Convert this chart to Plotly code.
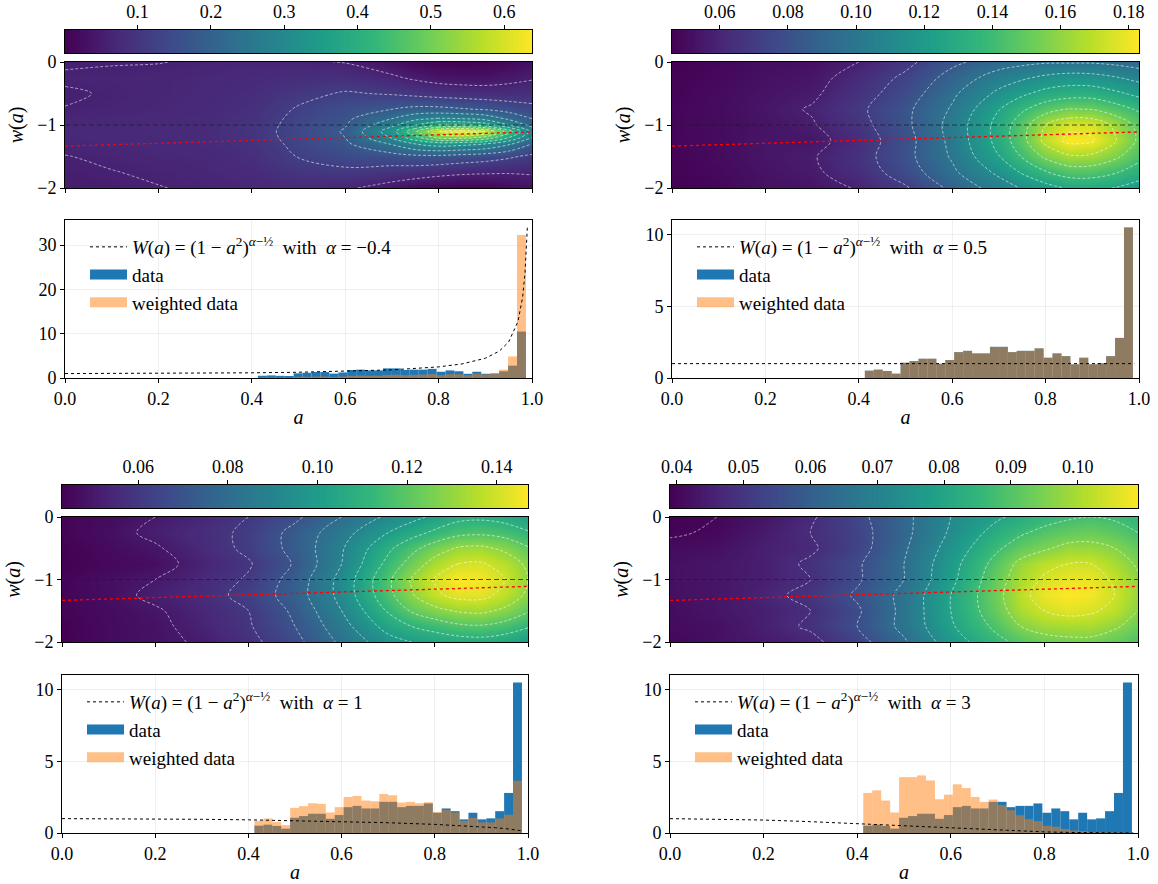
import numpy as np
import plotly.graph_objects as go

# ---------------------------------------------------------------- data
ALPHA_LABELS = ["−0.4", "0.5", "1", "3"]

# histogram of the sampled a values: 30 bins between sample min and max
A_MIN, A_MAX, N_BINS = 0.413, 0.987, 30

data_hist = [0.51, 0.58, 0.49, 0.30, 1.06, 1.18, 1.34, 1.34, 0.99, 1.25,
             1.80, 1.89, 1.71, 1.71, 2.17, 2.17, 1.80, 1.89, 1.89, 2.06,
             1.41, 1.71, 1.52, 0.95, 1.41, 0.95, 1.02, 1.52, 2.79, 10.48]
weighted_p1 = [0.11, 0.13, 0.11, 0.07, 0.25, 0.29, 0.33, 0.34, 0.26, 0.34,
               0.50, 0.55, 0.52, 0.54, 0.71, 0.75, 0.65, 0.72, 0.77, 0.90,
               0.66, 0.87, 0.85, 0.64, 1.00, 0.80, 1.01, 1.90, 4.87, 32.3]
weighted_p2 = [0.51, 0.58, 0.49, 0.30, 1.06, 1.18, 1.34, 1.34, 0.99, 1.25,
               1.80, 1.89, 1.71, 1.71, 2.17, 2.17, 1.80, 1.89, 1.89, 2.06,
               1.41, 1.71, 1.52, 0.95, 1.41, 0.95, 1.02, 1.52, 2.79, 10.48]
weighted_p3 = [0.85, 1.01, 0.78, 0.55, 1.75, 1.87, 2.07, 2.03, 1.43, 1.80,
               2.51, 2.58, 2.26, 2.21, 2.72, 2.63, 2.12, 2.17, 2.07, 2.14,
               1.45, 1.61, 1.43, 0.85, 1.06, 0.74, 0.74, 1.01, 1.27, 3.64]
weighted_p4 = [2.79, 2.97, 2.26, 1.43, 3.89, 3.89, 4.01, 3.66, 2.35, 2.67,
               3.39, 3.13, 2.51, 2.17, 2.33, 1.94, 1.59, 1.24, 0.97, 0.83,
               0.51, 0.44, 0.28, 0.18, 0.14, 0.06, 0.05, 0.04, 0.03, 0.01]

# weight curve W(a)
curve_a = [0, 0.1, 0.2, 0.3, 0.4, 0.5, 0.6, 0.7, 0.8, 0.85, 0.9, 0.93, 0.95,
           0.97, 0.98, 0.985, 0.99]
curve_p1 = [1.0, 1.009, 1.037, 1.089, 1.170, 1.296, 1.494, 1.833, 2.508, 3.170,
            4.458, 6.059, 8.127, 12.75, 18.28, 23.64, 33.96]
curve_p2 = [1.0] * 17
curve_p3 = [1.0, 0.995, 0.980, 0.954, 0.917, 0.866, 0.800, 0.714, 0.600, 0.527,
            0.436, 0.368, 0.312, 0.243, 0.199, 0.173, 0.141]
curve_p4 = [1.0, 0.975, 0.903, 0.790, 0.647, 0.487, 0.328, 0.186, 0.078, 0.041,
            0.016, 0.0067, 0.003, 0.0008, 0.0003, 0.0001, 0.0001]

# fiducial w(a) (red dotted) and LCDM reference
fid_a = [0.0, 0.25, 0.5, 0.75, 1.0]
fid_w = [-1.335, -1.28, -1.225, -1.17, -1.11]
w_lcdm = -1.0

# density maps: one list per a column, values over the w rows
A_GRID_1 = [0, 0.1, 0.2, 0.3, 0.4, 0.5, 0.6, 0.7, 0.75, 0.8, 0.85, 0.9, 0.95, 1.0]
W_GRID_1 = [0, -0.25, -0.5, -0.75, -0.9, -1.0, -1.1, -1.2, -1.3, -1.5, -1.75, -2.0]
density_p1_cols = [
    [0.055, 0.065, 0.056, 0.061, 0.068, 0.070, 0.071, 0.070, 0.068, 0.059, 0.054, 0.050],
    [0.058, 0.066, 0.063, 0.066, 0.071, 0.073, 0.074, 0.073, 0.071, 0.065, 0.059, 0.053],
    [0.059, 0.068, 0.068, 0.070, 0.074, 0.076, 0.076, 0.075, 0.073, 0.069, 0.064, 0.059],
    [0.064, 0.071, 0.072, 0.074, 0.077, 0.078, 0.079, 0.078, 0.076, 0.072, 0.068, 0.064],
    [0.068, 0.076, 0.082, 0.088, 0.093, 0.096, 0.098, 0.096, 0.092, 0.085, 0.077, 0.070],
    [0.066, 0.085, 0.105, 0.125, 0.133, 0.137, 0.140, 0.138, 0.133, 0.122, 0.100, 0.075],
    [0.058, 0.088, 0.125, 0.155, 0.168, 0.176, 0.185, 0.180, 0.170, 0.145, 0.108, 0.068],
    [0.030, 0.068, 0.115, 0.180, 0.240, 0.285, 0.335, 0.305, 0.245, 0.155, 0.095, 0.038],
    [0.012, 0.052, 0.105, 0.195, 0.285, 0.355, 0.470, 0.400, 0.300, 0.165, 0.088, 0.020],
    [0.004, 0.040, 0.095, 0.195, 0.305, 0.420, 0.600, 0.490, 0.330, 0.165, 0.078, 0.008],
    [0.001, 0.035, 0.090, 0.185, 0.300, 0.420, 0.638, 0.500, 0.320, 0.155, 0.070, 0.002],
    [0.004, 0.036, 0.085, 0.175, 0.280, 0.390, 0.600, 0.460, 0.300, 0.145, 0.066, 0.006],
    [0.014, 0.045, 0.085, 0.155, 0.230, 0.300, 0.450, 0.360, 0.250, 0.128, 0.064, 0.016],
    [0.028, 0.055, 0.088, 0.138, 0.180, 0.220, 0.280, 0.240, 0.180, 0.108, 0.066, 0.030],
]

A_GRID = [0, 0.1, 0.2, 0.3, 0.4, 0.5, 0.6, 0.7, 0.75, 0.8, 0.85, 0.9, 0.95, 1.0]
W_GRID = [0, -0.25, -0.5, -0.75, -1.0, -1.25, -1.5, -1.75, -2.0]
density_p2_cols = [
    [0.046, 0.047, 0.047, 0.048, 0.048, 0.048, 0.047, 0.047, 0.046],
    [0.048, 0.049, 0.050, 0.050, 0.050, 0.050, 0.050, 0.049, 0.048],
    [0.051, 0.052, 0.053, 0.054, 0.053, 0.054, 0.054, 0.053, 0.052],
    [0.052, 0.054, 0.056, 0.059, 0.057, 0.054, 0.057, 0.056, 0.053],
    [0.058, 0.063, 0.066, 0.069, 0.067, 0.064, 0.066, 0.064, 0.059],
    [0.068, 0.074, 0.078, 0.082, 0.082, 0.080, 0.081, 0.078, 0.070],
    [0.082, 0.090, 0.096, 0.100, 0.103, 0.102, 0.100, 0.096, 0.088],
    [0.092, 0.105, 0.115, 0.125, 0.130, 0.130, 0.125, 0.115, 0.105],
    [0.095, 0.110, 0.123, 0.137, 0.147, 0.148, 0.140, 0.127, 0.113],
    [0.097, 0.115, 0.130, 0.147, 0.166, 0.170, 0.155, 0.138, 0.120],
    [0.097, 0.118, 0.133, 0.153, 0.176, 0.183, 0.164, 0.145, 0.127],
    [0.097, 0.117, 0.133, 0.152, 0.175, 0.181, 0.163, 0.145, 0.128],
    [0.095, 0.113, 0.128, 0.145, 0.163, 0.167, 0.155, 0.140, 0.125],
    [0.092, 0.108, 0.122, 0.137, 0.148, 0.150, 0.143, 0.132, 0.120],
]
density_p3_cols = [
    [0.044, 0.044, 0.043, 0.043, 0.044, 0.044, 0.044, 0.043, 0.043],
    [0.046, 0.047, 0.046, 0.045, 0.047, 0.047, 0.046, 0.046, 0.046],
    [0.050, 0.052, 0.049, 0.047, 0.050, 0.052, 0.049, 0.048, 0.048],
    [0.054, 0.056, 0.055, 0.053, 0.055, 0.056, 0.054, 0.053, 0.051],
    [0.060, 0.062, 0.062, 0.059, 0.061, 0.063, 0.060, 0.059, 0.057],
    [0.068, 0.073, 0.073, 0.071, 0.074, 0.075, 0.072, 0.070, 0.067],
    [0.080, 0.086, 0.089, 0.090, 0.093, 0.093, 0.090, 0.086, 0.082],
    [0.092, 0.100, 0.108, 0.113, 0.118, 0.117, 0.111, 0.104, 0.096],
    [0.097, 0.106, 0.117, 0.124, 0.131, 0.129, 0.121, 0.110, 0.100],
    [0.102, 0.112, 0.125, 0.134, 0.141, 0.138, 0.127, 0.114, 0.103],
    [0.107, 0.117, 0.131, 0.140, 0.147, 0.143, 0.131, 0.118, 0.105],
    [0.108, 0.118, 0.132, 0.141, 0.146, 0.143, 0.132, 0.119, 0.106],
    [0.106, 0.116, 0.128, 0.136, 0.140, 0.137, 0.128, 0.116, 0.104],
    [0.102, 0.111, 0.121, 0.128, 0.130, 0.128, 0.121, 0.111, 0.100],
]
density_p4_cols = [
    [0.039, 0.0395, 0.041, 0.042, 0.042, 0.042, 0.041, 0.041, 0.040],
    [0.040, 0.0405, 0.042, 0.043, 0.043, 0.043, 0.043, 0.042, 0.042],
    [0.043, 0.044, 0.045, 0.045, 0.045, 0.046, 0.045, 0.045, 0.044],
    [0.047, 0.048, 0.047, 0.049, 0.048, 0.050, 0.048, 0.049, 0.046],
    [0.054, 0.053, 0.053, 0.055, 0.055, 0.057, 0.055, 0.056, 0.053],
    [0.062, 0.062, 0.063, 0.064, 0.064, 0.066, 0.066, 0.066, 0.063],
    [0.072, 0.073, 0.075, 0.077, 0.078, 0.080, 0.080, 0.079, 0.076],
    [0.079, 0.083, 0.087, 0.091, 0.093, 0.094, 0.093, 0.090, 0.086],
    [0.082, 0.087, 0.092, 0.098, 0.100, 0.102, 0.100, 0.096, 0.090],
    [0.085, 0.090, 0.095, 0.102, 0.105, 0.107, 0.104, 0.099, 0.093],
    [0.087, 0.092, 0.098, 0.104, 0.107, 0.109, 0.106, 0.100, 0.094],
    [0.088, 0.093, 0.098, 0.104, 0.107, 0.108, 0.105, 0.100, 0.094],
    [0.087, 0.091, 0.096, 0.100, 0.103, 0.104, 0.102, 0.097, 0.092],
    [0.085, 0.088, 0.092, 0.095, 0.097, 0.098, 0.096, 0.093, 0.089],
]

# contour levels (start, end, step) and colorbar ticks
contour_levels = [(0.06, 0.6, 0.06), (0.058, 0.18, 0.0135),
                  (0.05, 0.14, 0.01), (0.04, 0.104, 0.008)]
cbar_ticks = [[0.1, 0.2, 0.3, 0.4, 0.5, 0.6],
              [0.06, 0.08, 0.10, 0.12, 0.14, 0.16, 0.18],
              [0.06, 0.08, 0.10, 0.12, 0.14],
              [0.04, 0.05, 0.06, 0.07, 0.08, 0.09, 0.10]]
cbar_fmt = [".1f", ".2f", ".2f", ".2f"]
hist_yticks = [[0, 10, 20, 30], [0, 5, 10], [0, 5, 10], [0, 5, 10]]

# ---------------------------------------------------------------- layout (pixels)
W_PX, H_PX = 1158, 884
FONT = "Liberation Serif"
panels = [
    dict(x=(65, 532), cb=(30, 53), heat=(62, 188), hist=(220, 378)),
    dict(x=(672, 1139), cb=(30, 53), heat=(62, 188), hist=(220, 378)),
    dict(x=(62, 528), cb=(485, 508), heat=(517, 642), hist=(675, 833)),
    dict(x=(670, 1138), cb=(485, 508), heat=(517, 642), hist=(675, 833)),
]

def xd(px):
    return [px[0] / W_PX, px[1] / W_PX]

def yd(px):
    return [1 - px[1] / H_PX, 1 - px[0] / H_PX]

grids = [(A_GRID_1, W_GRID_1, density_p1_cols), (A_GRID, W_GRID, density_p2_cols),
         (A_GRID, W_GRID, density_p3_cols), (A_GRID, W_GRID, density_p4_cols)]
weighted = [weighted_p1, weighted_p2, weighted_p3, weighted_p4]
curves = [curve_p1, curve_p2, curve_p3, curve_p4]

edges = np.linspace(A_MIN, A_MAX, N_BINS + 1)
centers = 0.5 * (edges[:-1] + edges[1:])
bw = edges[1] - edges[0]

BLUE = "#1f77b4"
ORANGE_A = "rgba(255,127,14,0.5)"

fig = go.Figure()
layout = dict(width=W_PX, height=H_PX, margin=dict(l=0, r=0, t=0, b=0),
              paper_bgcolor="white", plot_bgcolor="white", barmode="overlay",
              font=dict(family=FONT, size=18, color="black"), showlegend=True)
shapes = []

axis_common = dict(showline=True, linecolor="black", linewidth=1, mirror=True,
                   ticks="outside", ticklen=4, tickcolor="black", zeroline=False,
                   automargin=False,
                   tickfont=dict(family=FONT, size=18, color="black"))

def nm(i, c):
    return c if i == 1 else f"{c}{i}"

for p in range(4):
    P = panels[p]
    icb, iht, ihs = 3 * p + 1, 3 * p + 2, 3 * p + 3
    a_g, w_g, cols = grids[p]
    Z = np.array(cols).T
    zmin, zmax = float(Z.min()), float(Z.max())

    # --- colour bar (gradient over the data range)
    cbv = np.linspace(zmin, zmax, 300)
    fig.add_trace(go.Heatmap(x=cbv, y=[0], z=[cbv], colorscale="Viridis",
                             zmin=zmin, zmax=zmax, showscale=False, hoverinfo="skip",
                             xaxis=nm(icb, "x"), yaxis=nm(icb, "y")))
    layout[nm(icb, "xaxis")] = dict(axis_common, domain=xd(P["x"]), range=[zmin, zmax],
                                   side="top", tickvals=cbar_ticks[p],
                                   tickformat=cbar_fmt[p], anchor=nm(icb, "y"),
                                   showgrid=False)
    layout[nm(icb, "yaxis")] = dict(axis_common, domain=yd(P["cb"]), range=[-0.5, 0.5],
                                   showticklabels=False, ticks="", anchor=nm(icb, "x"),
                                   showgrid=False)

    # --- density map
    fig.add_trace(go.Heatmap(x=a_g, y=w_g, z=Z, colorscale="Viridis", zmin=zmin,
                             zmax=zmax, zsmooth="best", showscale=False,
                             hoverinfo="skip", showlegend=False,
                             xaxis=nm(iht, "x"), yaxis=nm(iht, "y")))
    s, e, d = contour_levels[p]
    fig.add_trace(go.Contour(x=a_g, y=w_g, z=Z, showscale=False, hoverinfo="skip",
                             contours=dict(coloring="none", start=s, end=e, size=d),
                             line=dict(color="rgba(255,255,255,0.55)", width=1,
                                       dash="3px,2px", smoothing=1.0),
                             showlegend=False,
                             xaxis=nm(iht, "x"), yaxis=nm(iht, "y")))
    fig.add_trace(go.Scatter(x=fid_a, y=fid_w, mode="lines", showlegend=False,
                             line=dict(color="red", width=1.3, dash="dot"),
                             hoverinfo="skip",
                             xaxis=nm(iht, "x"), yaxis=nm(iht, "y")))
    shapes.append(dict(type="line", xref=f"{nm(iht, 'x')} domain", x0=0, x1=1,
                       yref=nm(iht, "y"), y0=w_lcdm, y1=w_lcdm,
                       line=dict(color="rgba(30,30,30,0.75)", width=1, dash="5px,3px")))
    layout[nm(iht, "xaxis")] = dict(axis_common, domain=xd(P["x"]), range=[0, 1],
                                   tickvals=[0, 0.2, 0.4, 0.6, 0.8, 1.0],
                                   showticklabels=False, anchor=nm(iht, "y"),
                                   showgrid=False)
    layout[nm(iht, "yaxis")] = dict(axis_common, domain=yd(P["heat"]), range=[-2, 0],
                                   tickvals=[-2, -1, 0], anchor=nm(iht, "x"),
                                   showgrid=False,
                                   title=dict(text="<i>w</i>(<i>a</i>)", standoff=8,
                                              font=dict(family=FONT, size=20)))

    # --- histogram
    leg = "legend" if p == 0 else f"legend{p + 1}"
    label = ("<i>W</i>(<i>a</i>) = (1 − <i>a</i><sup>2</sup>)"
             "<sup><i>α</i>−½</sup>  with  <i>α</i> = " + ALPHA_LABELS[p])
    fig.add_trace(go.Scatter(x=curve_a, y=curves[p], mode="lines", name=label,
                             line=dict(color="black", width=1, dash="dot"),
                             legend=leg, xaxis=nm(ihs, "x"), yaxis=nm(ihs, "y")))
    fig.add_trace(go.Bar(x=centers, y=data_hist, width=bw, name="data",
                         marker=dict(color=BLUE, line=dict(width=0)),
                         showlegend=False, hoverinfo="skip",
                         xaxis=nm(ihs, "x"), yaxis=nm(ihs, "y")))
    fig.add_trace(go.Bar(x=centers, y=weighted[p], width=bw, name="weighted data",
                         marker=dict(color=ORANGE_A, line=dict(width=0)),
                         showlegend=False, hoverinfo="skip",
                         xaxis=nm(ihs, "x"), yaxis=nm(ihs, "y")))
    # legend entries for the two histograms (wide rectangular patches)
    for nme, colr in (("data", BLUE), ("weighted data", ORANGE_A)):
        fig.add_trace(go.Scatter(x=[None], y=[None], mode="lines", name=nme,
                                 line=dict(color=colr, width=13), legend=leg,
                                 xaxis=nm(ihs, "x"), yaxis=nm(ihs, "y")))
    ymax = max(max(data_hist), max(weighted[p]), max(curves[p])) * 1.05
    layout[nm(ihs, "xaxis")] = dict(axis_common, domain=xd(P["x"]), range=[0, 1],
                                   tickvals=[0, 0.2, 0.4, 0.6, 0.8, 1.0],
                                   tickformat=".1f", anchor=nm(ihs, "y"),
                                   showgrid=True, gridcolor="rgba(0,0,0,0.06)",
                                   title=dict(text="<i>a</i>", standoff=2,
                                              font=dict(family=FONT, size=20)))
    layout[nm(ihs, "yaxis")] = dict(axis_common, domain=yd(P["hist"]), range=[0, ymax],
                                   tickvals=hist_yticks[p], anchor=nm(ihs, "x"),
                                   showgrid=True, gridcolor="rgba(0,0,0,0.06)")
    layout[leg] = dict(x=(P["x"][0] + 20) / W_PX, y=1 - (P["hist"][0] + 8) / H_PX,
                       xanchor="left", yanchor="top", bgcolor="rgba(0,0,0,0)",
                       font=dict(family=FONT, size=19), itemwidth=37,
                       tracegroupgap=0, traceorder="normal")

layout["shapes"] = shapes
fig.update_layout(**layout)
# remove the browser's default 8px page margin so the figure fills the window
fig.write_html("out.html", config={"displayModeBar": False},
               post_script="document.body.style.margin='0';"
                           "document.body.style.overflow='hidden';")
